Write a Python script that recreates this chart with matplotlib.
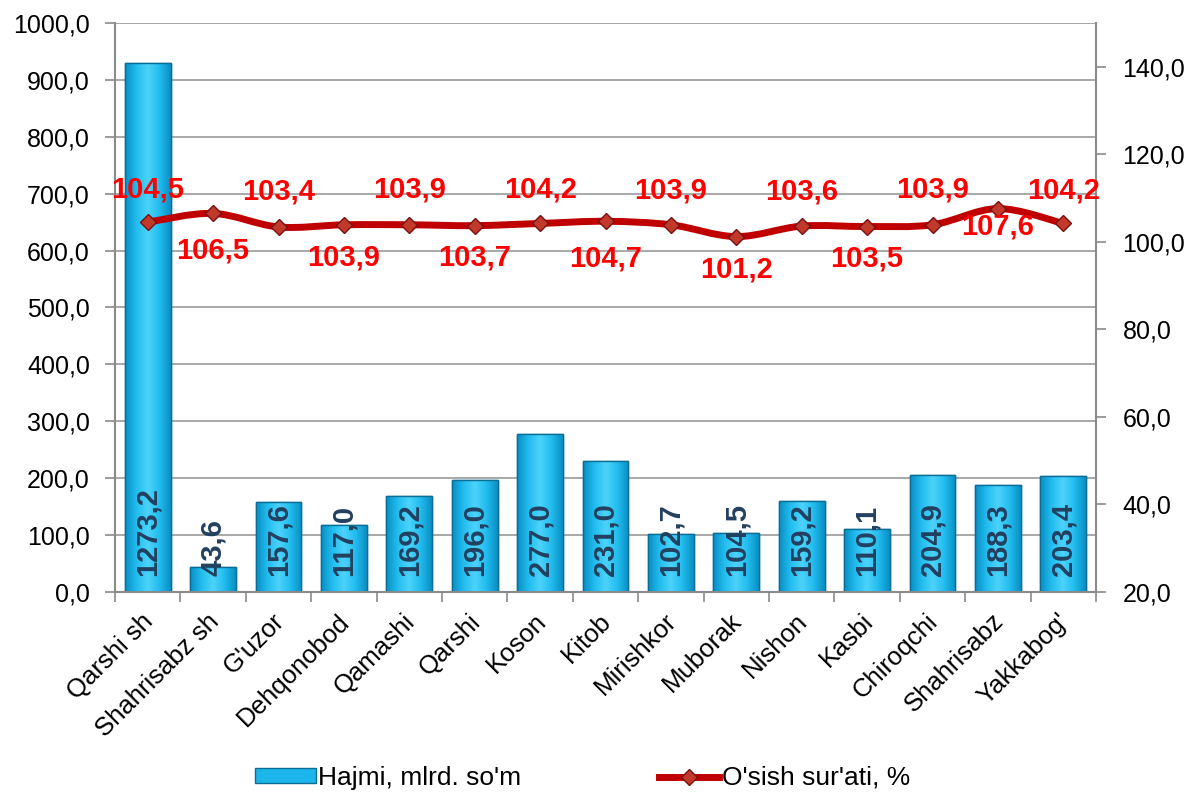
import matplotlib
matplotlib.use("Agg")
import matplotlib.pyplot as plt
from matplotlib.path import Path
from matplotlib.patches import PathPatch, Patch
from matplotlib.lines import Line2D
from matplotlib.colors import LinearSegmentedColormap
import numpy as np

plt.rcParams['font.family'] = ['Liberation Sans', 'DejaVu Sans']

categories = ["Qarshi sh", "Shahrisabz sh", "G'uzor", "Dehqonobod", "Qamashi", "Qarshi",
              "Koson", "Kitob", "Mirishkor", "Muborak", "Nishon", "Kasbi", "Chiroqchi",
              "Shahrisabz", "Yakkabog'"]
volume_labels = ["1273,2", "43,6", "157,6", "117,0", "169,2", "196,0", "277,0", "231,0",
                 "102,7", "104,5", "159,2", "110,1", "204,9", "188,3", "203,4"]
# bar heights as drawn in the picture (first bar is truncated at ~930)
volume_heights = [930.0, 43.6, 157.6, 117.0, 169.2, 196.0, 277.0, 231.0,
                  102.7, 104.5, 159.2, 110.1, 204.9, 188.3, 203.4]
growth = [104.5, 106.5, 103.4, 103.9, 103.9, 103.7, 104.2, 104.7,
          103.9, 101.2, 103.6, 103.5, 103.9, 107.6, 104.2]
# label offsets in pixels (positive = above the point)
label_offsets = [33, -37, 35, -33, 35, -32, 34, -37, 34, -33, 35, -32, 35, -18, 33]

W, H = 1189, 796
fig = plt.figure(figsize=(W / 100, H / 100), dpi=100)
ax = fig.add_axes([115 / W, 1 - 592 / H, (1096 - 115) / W, (592 - 23) / H])
ax2 = ax.twinx()

x = np.arange(len(categories))
bar_w = 0.7
bars = ax.bar(x, volume_heights, width=bar_w, color='#1DB6EC', edgecolor='#0B6E96',
              linewidth=1.0, zorder=2)
grad_cmap = LinearSegmentedColormap.from_list(
    'cyan', ['#0A8FC4', '#22BDEF', '#4CD3FA', '#22BDEF', '#0A8FC4'])
grad = np.linspace(0, 1, 64).reshape(1, -1)
for b, xi, h in zip(bars, x, volume_heights):
    im = ax.imshow(grad, cmap=grad_cmap, aspect='auto', zorder=2.1,
                   extent=(xi - bar_w / 2, xi + bar_w / 2, 0, h), interpolation='bicubic')
    im.set_clip_path(b)
ax.bar(x, volume_heights, width=bar_w, facecolor='none', edgecolor='#0B6E96',
       linewidth=1.0, zorder=2.2)

ax.set_xlim(-0.5, len(categories) - 0.5)
ax.set_ylim(0, 1000)
ax.set_yticks(np.arange(0, 1001, 100))
ax.set_yticklabels([f"{v:.1f}".replace('.', ',') for v in np.arange(0, 1001, 100)])
ax.yaxis.grid(True, color='#9A9A9A', linewidth=1.2, zorder=0)
ax.set_axisbelow(True)

for xi, lab in zip(x, volume_labels):
    ax.text(xi, 28, lab, rotation=90, ha='center', va='bottom', fontsize=21,
            fontweight='bold', color='#22405F', zorder=4)

# x-axis ticks between categories
ax.set_xticks(np.arange(-0.5, len(categories), 1.0), minor=False)
ax.set_xticklabels([])
ax.tick_params(axis='x', length=7, color='#8A8A8A', width=1.2)
for xi, c in zip(x, categories):
    ax.text(xi - 0.1, -30, c, rotation=45, ha='right', va='top', rotation_mode='anchor',
            fontsize=18.5, color='black')

ax.tick_params(axis='y', labelsize=18, length=7, color='#8A8A8A', width=1.2, pad=11)
for s in ['left', 'bottom']:
    ax.spines[s].set_color('#8A8A8A')
    ax.spines[s].set_linewidth(1.5)
ax.spines['top'].set_visible(False)
ax.spines['right'].set_visible(False)

ax2.set_ylim(20, 150)
ax2.set_yticks(np.arange(20, 141, 20))
ax2.set_yticklabels([f"{v:.1f}".replace('.', ',') for v in np.arange(20, 141, 20)])
ax2.tick_params(axis='y', labelsize=18, length=7, color='#8A8A8A', width=1.2, pad=12)
ax2.spines['right'].set_color('#8A8A8A')
ax2.spines['right'].set_linewidth(1.5)
for s in ['left', 'top', 'bottom']:
    ax2.spines[s].set_visible(False)

# smoothed line via Catmull-Rom -> cubic Bezier path
pts = np.column_stack([x, growth]).astype(float)
verts = [tuple(pts[0])]
codes = [Path.MOVETO]
n = len(pts)
for i in range(n - 1):
    p0 = pts[i - 1] if i > 0 else pts[i]
    p1 = pts[i]
    p2 = pts[i + 1]
    p3 = pts[i + 2] if i + 2 < n else pts[i + 1]
    c1 = p1 + (p2 - p0) / 6.0
    c2 = p2 - (p3 - p1) / 6.0
    verts += [tuple(c1), tuple(c2), tuple(p2)]
    codes += [Path.CURVE4] * 3
ax2.add_patch(PathPatch(Path(verts, codes), facecolor='none', edgecolor='#C00000',
                        linewidth=5, capstyle='round', joinstyle='round', zorder=3))
ax2.plot(x, growth, linestyle='none', marker='D', markersize=8,
         markerfacecolor='#C0392B', markeredgecolor='#7A1010', markeredgewidth=1, zorder=4)

for xi, g, off in zip(x, growth, label_offsets):
    ax2.annotate(f"{g:.1f}".replace('.', ','), (xi, g), xytext=(0, off),
                 textcoords='offset pixels', ha='center', va='center', fontsize=21,
                 fontweight='bold', color='#FF0000', zorder=5)

handles = [Patch(facecolor='#1DB6EC', edgecolor='#0B6E96'),
           Line2D([0], [0], color='#C00000', linewidth=5, marker='D', markersize=8,
                  markerfacecolor='#C0392B', markeredgecolor='#7A1010')]
fig.legend(handles, ["Hajmi, mlrd. so'm", "O'sish sur'ati, %"], loc='center',
           bbox_to_anchor=(0.49, 1 - 778 / H), ncol=2, frameon=False, fontsize=19,
           columnspacing=5.2, handlelength=2.3, handleheight=0.5, handletextpad=0.1)

fig.savefig("out.png", dpi=100)
